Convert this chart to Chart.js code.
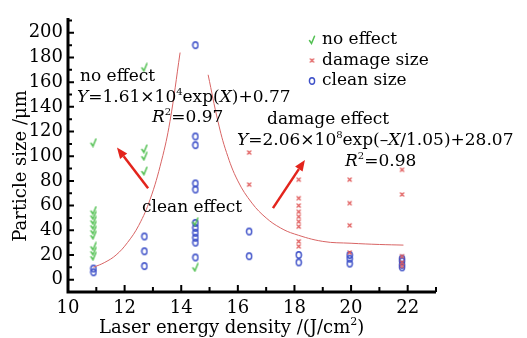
<!DOCTYPE html>
<html>
<head>
<meta charset="utf-8">
<script src="https://cdn.jsdelivr.net/npm/chart.js@4.4.0/dist/chart.umd.min.js"></script>
<style>
  html, body { margin: 0; padding: 0; background: #fff; }
</style>
</head>
<body>
<canvas id="c" width="527" height="338"></canvas>
<script>
// tick labels
const xTicks = [10, 12, 14, 16, 18, 20, 22]
const yTicks = [0, 20, 40, 60, 80, 100, 120, 140, 160, 180, 200]

// no effect (green checks)
const noEffectX = [10.9, 10.9, 10.9, 10.9, 10.9, 10.9, 10.9, 10.9, 10.9, 10.9, 12.7, 12.7, 12.7, 12.7, 14.5, 14.5]
const noEffectY = [111, 56, 52, 48, 44, 40, 36, 27, 23, 19, 172, 106, 100, 88, 47, 10]

// damage size (red crosses)
const damageX = [16.4, 16.4, 18.15, 18.15, 18.15, 18.15, 18.15, 18.15, 18.15, 18.15, 18.15, 19.95, 19.95, 19.95, 19.95, 21.8, 21.8, 21.8, 21.8, 21.8]
const damageY = [103, 77, 81, 66, 60, 55, 51, 47, 43, 31, 27, 81, 62, 44, 22, 89, 69, 19, 14, 11]

// clean size (blue circles)
const cleanX = [10.9, 10.9, 12.7, 12.7, 12.7, 14.5, 14.5, 14.5, 14.5, 14.5, 14.5, 14.5, 14.5, 14.5, 14.5, 14.5, 16.4, 16.4, 18.15, 18.15, 19.95, 19.95, 19.95, 21.8, 21.8, 21.8, 21.8]
const cleanY = [6, 9, 35, 23, 11, 190, 116, 109, 78, 73, 46, 42, 38, 34, 30, 18, 39, 19, 20, 14, 20, 17, 13, 17, 15, 12, 10]

// fitted curves
const fitCleanX = [10.9, 11.3, 11.7, 12.1, 12.5, 12.9, 13.3, 13.6, 13.96]
const fitCleanY = [10, 14, 20, 30, 44, 65, 96, 128, 184]
const fitDamageX = [14.95, 15.3, 15.6, 16.0, 16.5, 17.0, 17.5, 18.0, 19.0, 20.0, 21.0, 21.85]
const fitDamageY = [166, 128, 103, 80, 62, 50, 42, 37, 31, 29.5, 28.5, 28]

// arrows [x0, y0, x1, y1] in data units, head at the second point
const arrowNoEffect = [12.83, 74, 11.73, 107]
const arrowDamage = [17.24, 58, 18.37, 97]

const pts = (xs, ys) => xs.map((x, i) => ({ x, y: ys[i] }))

function mk(w, h, draw) {
  const c = document.createElement('canvas')
  c.width = w; c.height = h
  draw(c.getContext('2d'))
  return c
}
const checkImg = mk(8, 10, g => {
  g.strokeStyle = '#52c052'; g.lineWidth = 1.5; g.lineCap = 'round'
  g.beginPath(); g.moveTo(1.5, 5.5); g.lineTo(3.5, 8.5); g.lineTo(6.5, 1.2); g.stroke()
})
const crossImg = mk(7, 7, g => {
  g.strokeStyle = '#e05a5a'; g.lineWidth = 1.2
  g.beginPath(); g.moveTo(1.5, 1.5); g.lineTo(5.5, 5.5); g.moveTo(5.5, 1.5); g.lineTo(1.5, 5.5); g.stroke()
})
const circImg = mk(8, 10, g => {
  g.strokeStyle = '#3d50c8'; g.lineWidth = 1.4
  g.beginPath(); g.ellipse(4, 5, 2.6, 3.3, 0, 0, Math.PI * 2); g.stroke()
})

const FONT = '"DejaVu Serif", serif'

// draw text made of parts: [text, 'i' italic | 's' superscript | '']
function rich(ctx, parts, x, y, size) {
  ctx.textBaseline = 'middle'
  ctx.textAlign = 'left'
  let cx = x
  for (const [t, s] of parts) {
    const sup = s && s.includes('s')
    const it = s && s.includes('i')
    const fs = sup ? Math.round(size * 0.6) : size
    ctx.font = (it ? 'italic ' : '') + fs + 'px ' + FONT
    ctx.fillText(t, cx, sup ? y - size * 0.35 : y)
    cx += ctx.measureText(t).width
  }
}

const decor = {
  id: 'decor',
  afterDatasetsDraw(chart) {
    const { ctx, chartArea: a, scales: { x, y } } = chart
    ctx.save()

    // arrows
    for (const [x0, y0, x1, y1] of [arrowNoEffect, arrowDamage]) {
      const p0 = [x.getPixelForValue(x0), y.getPixelForValue(y0)]
      const p1 = [x.getPixelForValue(x1), y.getPixelForValue(y1)]
      const ang = Math.atan2(p1[1] - p0[1], p1[0] - p0[0])
      const hl = 11, hw = 4.5
      const bx = p1[0] - hl * Math.cos(ang), by = p1[1] - hl * Math.sin(ang)
      ctx.strokeStyle = '#e3241c'; ctx.lineWidth = 2.5
      ctx.beginPath(); ctx.moveTo(p0[0], p0[1]); ctx.lineTo(bx, by); ctx.stroke()
      ctx.fillStyle = '#e3241c'
      ctx.beginPath()
      ctx.moveTo(p1[0], p1[1])
      ctx.lineTo(bx + hw * Math.sin(ang), by - hw * Math.cos(ang))
      ctx.lineTo(bx - hw * Math.sin(ang), by + hw * Math.cos(ang))
      ctx.closePath(); ctx.fill()
    }

    // annotations
    ctx.fillStyle = '#000'
    const fs = 17
    rich(ctx, [['no effect', '']], 80, 77, fs)
    rich(ctx, [['Y', 'i'], ['=1.61×10', ''], ['4', 's'], ['exp(', ''], ['X', 'i'], [')+0.77', '']], 77, 98, fs)
    rich(ctx, [['R', 'i'], ['2', 's'], ['=0.97', '']], 152, 118, fs)
    rich(ctx, [['damage effect', '']], 267, 120, fs)
    rich(ctx, [['Y', 'i'], ['=2.06×10', ''], ['8', 's'], ['exp(–', ''], ['X', 'i'], ['/1.05)+28.07', '']], 237, 141, fs)
    rich(ctx, [['R', 'i'], ['2', 's'], ['=0.98', '']], 345, 162, fs)
    rich(ctx, [['clean effect', '']], 142, 208, fs)

    // legend
    const leg = [[checkImg, 'no effect'], [crossImg, 'damage size'], [circImg, 'clean size']]
    leg.forEach(([img, t], i) => {
      const ly = 40 + i * 20.5
      ctx.drawImage(img, 312 - img.width / 2, ly - img.height / 2)
      rich(ctx, [[t, '']], 322, ly, fs)
    })

    // axes
    ctx.strokeStyle = '#000'; ctx.lineWidth = 3
    ctx.beginPath()
    ctx.moveTo(a.left, a.top); ctx.lineTo(a.left, a.bottom); ctx.lineTo(a.right, a.bottom)
    ctx.stroke()
    ctx.lineWidth = 2
    ctx.beginPath()
    for (let v = 10; v <= 23; v++) {
      const px = x.getPixelForValue(v)
      const len = v % 2 === 0 ? 7 : 5
      ctx.moveTo(px, a.bottom); ctx.lineTo(px, a.bottom - len)
    }
    for (let v = 0; v <= 210; v += 10) {
      const py = y.getPixelForValue(v)
      const len = v % 20 === 0 ? 6 : 4
      ctx.moveTo(a.left, py); ctx.lineTo(a.left + len, py)
    }
    ctx.stroke()

    // axis titles
    ctx.fillStyle = '#000'
    rich(ctx, [['Laser energy density /(J/cm', ''], ['2', 's'], [')', '']], 99, 328, 18)
    ctx.save()
    ctx.translate(21, 166); ctx.rotate(-Math.PI / 2)
    ctx.font = '18px ' + FONT
    ctx.textAlign = 'center'; ctx.textBaseline = 'middle'
    ctx.fillText('Particle size /μm', 0, 0)
    ctx.restore()
    ctx.restore()
  }
}

Chart.defaults.font.family = FONT
Chart.defaults.font.size = 18
Chart.defaults.color = '#000'

const curveStyle = { showLine: true, pointRadius: 0, borderColor: '#d86464', borderWidth: 1, tension: 0.4, fill: false }

new Chart(document.getElementById('c'), {
  type: 'scatter',
  data: {
    datasets: [
      { label: 'clean fit', data: pts(fitCleanX, fitCleanY), ...curveStyle },
      { label: 'damage fit', data: pts(fitDamageX, fitDamageY), ...curveStyle },
      { label: 'no effect', data: pts(noEffectX, noEffectY), pointStyle: checkImg, pointRadius: 4 },
      { label: 'damage size', data: pts(damageX, damageY), pointStyle: crossImg, pointRadius: 3 },
      { label: 'clean size', data: pts(cleanX, cleanY), pointStyle: circImg, pointRadius: 3 }
    ]
  },
  options: {
    responsive: false,
    animation: false,
    layout: { padding: { left: 0, right: 91, top: 18, bottom: 0 } },
    plugins: { legend: { display: false }, tooltip: { enabled: false } },
    scales: {
      x: {
        type: 'linear', min: 10, max: 23,
        grid: { display: false, drawTicks: false },
        border: { display: false },
        ticks: { padding: 6 },
        afterBuildTicks: s => { s.ticks = xTicks.map(v => ({ value: v })) },
        afterFit: s => { s.height = 46 }
      },
      y: {
        type: 'linear', min: -10, max: 212,
        grid: { display: false, drawTicks: false },
        border: { display: false },
        ticks: { padding: 5 },
        afterBuildTicks: s => { s.ticks = yTicks.map(v => ({ value: v })) },
        afterFit: s => { s.width = 68 }
      }
    }
  },
  plugins: [decor]
})
</script>
</body>
</html>
